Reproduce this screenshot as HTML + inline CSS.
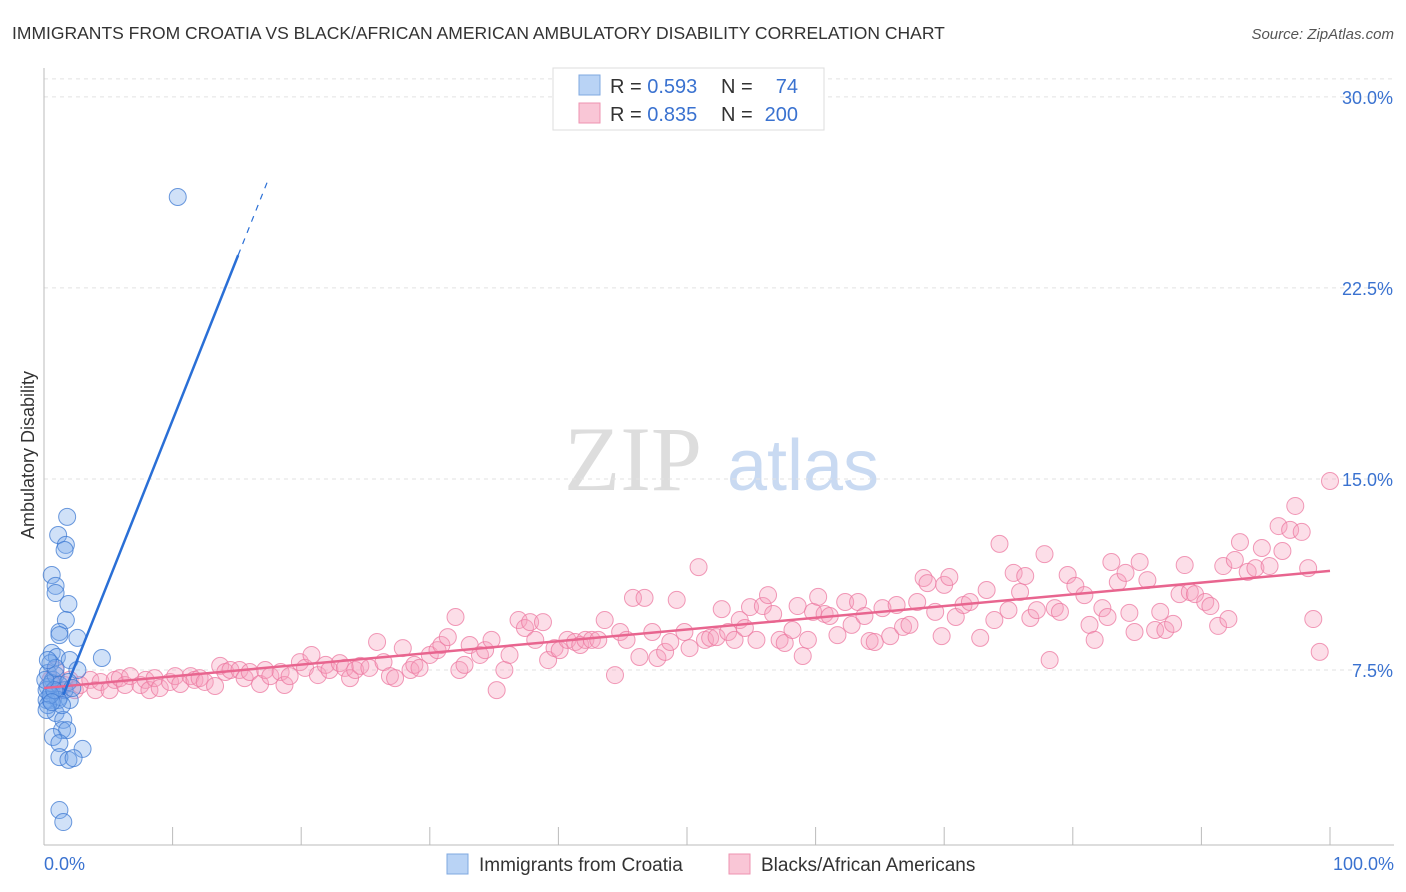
<!DOCTYPE html>
<html><head><meta charset="utf-8"><style>
body{margin:0;background:#fff;font-family:"Liberation Sans",sans-serif;}
#wrap{position:relative;width:1406px;height:892px;overflow:hidden;}
svg text{font-family:"Liberation Sans",sans-serif;}
</style></head><body>
<div id="wrap">
<svg id="chart" width="1406" height="892">
<text x="12" y="39" font-size="17.5" fill="#333">IMMIGRANTS FROM CROATIA VS BLACK/AFRICAN AMERICAN AMBULATORY DISABILITY CORRELATION CHART</text>
<text x="1394" y="39" font-size="15" fill="#555" font-style="italic" text-anchor="end">Source: ZipAtlas.com</text>
<text x="34" y="455" font-size="18" fill="#333" text-anchor="middle" transform="rotate(-90 34 455)">Ambulatory Disability</text>
<g>
<text x="633" y="490" font-size="92" fill="#ddd" font-family="Liberation Serif" text-anchor="middle" style="font-family:'Liberation Serif',serif">ZIP</text>
<text x="803" y="490" font-size="72" fill="#c9daf2" text-anchor="middle">atlas</text>
</g>
<g id="grid"></g><g id="axes"></g><g id="pts"></g><g id="lines"></g>
<g>
<rect x="553" y="68" width="271" height="62" fill="#fff" stroke="#ddd"/>
<rect x="579" y="75" width="21" height="20" fill="#b9d3f5" stroke="#7fa8e0"/>
<rect x="579" y="103" width="21" height="20" fill="#f9c6d6" stroke="#ee93b0"/>
<text x="610" y="93" font-size="20" fill="#333">R = <tspan fill="#3a72d0">0.593</tspan></text>
<text x="721" y="93" font-size="20" fill="#333">N = </text><text x="798" y="93" font-size="20" fill="#3a72d0" text-anchor="end">74</text>
<text x="610" y="121" font-size="20" fill="#333">R = <tspan fill="#3a72d0">0.835</tspan></text>
<text x="721" y="121" font-size="20" fill="#333">N = </text><text x="798" y="121" font-size="20" fill="#3a72d0" text-anchor="end">200</text>
</g>
<g>
<rect x="447" y="854" width="21" height="20" fill="#b9d3f5" stroke="#7fa8e0"/>
<text x="479" y="871" font-size="19" fill="#333">Immigrants from Croatia</text>
<rect x="729" y="854" width="21" height="20" fill="#f9c6d6" stroke="#ee93b0"/>
<text x="761" y="871" font-size="19" fill="#333">Blacks/African Americans</text>
</g>
</svg>
</div>
<script>
const yTicks=[7.5,15,22.5,30];
const yTickLabels=["7.5%","15.0%","22.5%","30.0%"];
const xTicks=[0,10,20,30,40,50,60,70,80,90,100];
const blueX=[10.4,1.8,1.1,1.7,1.6,0.6,0.9,0.9,1.9,1.7,1.2,1.2,2.6,0.6,4.5,1.0,2.0,2.6,0.5,0.3,0.7,0.3,0.6,0.5,1.2,2.0,0.9,1.5,1.4,1.8,0.7,1.2,3.0,1.2,1.9,2.3,1.2,1.5,0.2,0.2,0.6,0.9,1.2,1.6,1.1,1.4,0.3,0.5,0.8,0.1,0.9,0.3,1.9,2.2,0.2,0.6];
const blueY=[26.07,13.51,12.8,12.41,12.21,11.23,10.8,10.52,10.09,9.46,8.99,8.87,8.76,8.17,7.97,8.01,7.89,7.5,7.77,7.38,7.11,6.83,6.6,6.32,6.44,6.32,5.81,5.54,5.14,5.14,4.87,4.63,4.4,4.08,3.97,4.04,2.0,1.53,6.32,6.71,6.99,7.3,6.91,6.71,6.32,6.12,6.12,6.52,6.71,7.11,7.58,7.89,7.03,6.79,5.93,6.24];
const pinkX=[0.5,0.9,1.2,1.6,2.0,2.4,2.8,3.6,4.0,4.4,5.1,5.5,5.9,6.3,6.7,7.5,7.9,8.2,8.6,9.0,9.8,10.2,10.6,11.4,11.7,12.1,12.5,13.3,13.7,14.1,14.5,15.2,15.6,16.0,16.8,17.2,17.6,18.4,18.7,19.1,19.9,20.3,20.8,21.3,21.9,22.2,23.0,23.4,23.8,24.2,24.6,25.3,25.9,26.4,26.9,27.3,27.9,28.5,28.8,29.2,30.0,30.6,30.9,31.4,32.0,32.3,32.7,33.1,33.9,34.3,34.8,35.2,35.8,36.2,36.9,37.4,37.8,38.2,38.8,39.2,39.7,40.1,40.7,41.3,41.7,42.1,42.6,43.1,43.6,44.4,44.8,45.3,45.8,46.3,46.7,47.3,47.7,48.3,48.7,49.2,49.8,50.2,50.9,51.4,51.8,52.3,52.7,53.2,53.7,54.1,54.5,54.9,55.4,55.9,56.3,56.7,57.2,57.6,58.2,58.6,59.0,59.4,59.8,60.2,60.7,61.1,61.7,62.3,62.8,63.3,63.8,64.2,64.6,65.2,65.8,66.3,66.8,67.3,67.9,68.4,68.7,69.3,69.8,70.0,70.4,70.9,71.5,72.0,72.8,73.3,73.9,74.3,75.0,75.4,75.9,76.3,76.7,77.2,77.8,78.2,78.6,79.0,79.6,80.2,80.9,81.3,81.7,82.3,82.7,83.0,83.5,84.1,84.4,84.8,85.2,85.8,86.4,86.8,87.2,87.8,88.3,88.7,89.1,89.5,90.3,90.7,91.3,91.7,92.1,92.6,93.0,93.6,94.2,94.7,95.3,96.0,96.3,96.9,97.3,97.8,98.3,98.7,99.2,100];
const pinkY=[7.11,7.5,6.71,6.91,7.11,6.71,6.91,7.11,6.71,7.03,6.71,7.11,7.18,6.91,7.26,6.91,7.11,6.71,7.18,6.79,7.03,7.26,6.95,7.26,7.11,7.18,7.03,6.87,7.66,7.42,7.5,7.5,7.18,7.42,6.95,7.5,7.26,7.42,6.91,7.26,7.81,7.58,8.09,7.3,7.7,7.5,7.77,7.58,7.18,7.5,7.66,7.58,8.6,7.81,7.26,7.18,8.36,7.5,7.7,7.58,8.09,8.28,8.48,8.79,9.58,7.5,7.7,8.48,8.09,8.28,8.68,6.71,7.5,8.09,9.46,9.15,9.38,8.68,9.38,7.89,8.36,8.28,8.68,8.6,8.48,8.68,8.68,8.68,9.46,7.3,8.99,8.68,10.33,8.01,10.33,8.99,7.97,8.21,8.6,10.25,8.99,8.36,11.54,8.68,8.76,8.79,9.89,8.99,8.68,9.46,9.15,9.97,8.68,10.01,10.44,9.7,8.68,8.56,9.07,10.01,8.05,8.68,9.78,10.37,9.7,9.62,8.87,10.17,9.27,10.17,9.62,8.64,8.6,9.93,8.83,10.05,9.19,9.27,10.17,11.11,10.91,9.78,8.83,10.84,11.15,9.58,10.05,10.17,8.76,10.64,9.46,12.45,9.85,11.31,10.56,11.19,9.54,9.85,12.05,7.89,9.93,9.78,11.23,10.8,10.44,9.27,8.68,9.93,9.58,11.74,10.95,11.31,9.74,8.99,11.74,11.03,9.07,9.78,9.07,9.31,10.48,11.62,10.56,10.48,10.17,10.01,9.23,11.58,9.5,11.82,12.52,11.35,11.5,12.29,11.58,13.15,12.17,13.0,13.94,12.92,11.5,9.5,8.21,14.92];
const blueTrendX=[0,15.1,17.4];
const pinkTrendX=[0,100];
function blueFit(x){return 4.61+1.27*x;}
function pinkFit(x){return 6.79+0.046*x;}
const X=v=>44+v*12.86, Y=v=>861-v*25.47;
const NS="http://www.w3.org/2000/svg";
function mk(tag,attrs,parent){const e=document.createElementNS(NS,tag);for(const k in attrs)e.setAttribute(k,attrs[k]);parent.appendChild(e);return e;}
const grid=document.getElementById('grid'),axes=document.getElementById('axes'),pts=document.getElementById('pts'),lines=document.getElementById('lines');
yTicks.forEach((t,i)=>{
 const l=mk('line',{x1:44,x2:1394,y1:Y(t),y2:Y(t),stroke:'#e2e2e2','stroke-dasharray':'4,4'},grid);
 
 
 const tx=mk('text',{x:1393,y:Y(t)+7,'font-size':18,fill:'#3a72d0','text-anchor':'end'},axes);
 tx.textContent=yTickLabels[i];
 
 
});
const topG=mk('line',{x1:44,x2:1394,y1:Y(30)-18,y2:Y(30)-18,stroke:'#e2e2e2','stroke-dasharray':'4,4'},grid);


const ya=mk('line',{x1:44,x2:44,y1:68,y2:845,stroke:'#bbb'},axes);


const xa=mk('line',{x1:44,x2:1394,y1:845,y2:845,stroke:'#bbb'},axes);


xTicks.forEach(t=>{
 const l=mk('line',{x1:X(t),x2:X(t),y1:827,y2:845,stroke:'#bbb'},axes);
 
 
});
const xl0=mk('text',{x:44,y:870,'font-size':18,fill:'#3a72d0'},axes);xl0.textContent='0.0%';


const xl1=mk('text',{x:1394,y:870,'font-size':18,fill:'#3a72d0','text-anchor':'end'},axes);xl1.textContent='100.0%';


pinkX.forEach((v,i)=>{
 const c=mk('circle',{cx:X(v),cy:Y(pinkY[i]),r:8.5,fill:'rgba(246,160,190,0.35)',stroke:'rgba(236,120,160,0.75)','stroke-width':1},pts);
 
 
});
blueX.forEach((v,i)=>{
 const c=mk('circle',{cx:X(v),cy:Y(blueY[i]),r:8.5,fill:'rgba(120,170,235,0.35)',stroke:'rgba(60,120,210,0.75)','stroke-width':1},pts);
 
 
});
const pl=mk('line',{x1:X(pinkTrendX[0]),y1:Y(pinkFit(pinkTrendX[0])),x2:X(pinkTrendX[1]),y2:Y(pinkFit(pinkTrendX[1])),stroke:'#e8658f','stroke-width':2.5},lines);


const bl=mk('line',{x1:X(blueTrendX[0]+1.5),y1:Y(blueFit(blueTrendX[0]+1.5)),x2:X(blueTrendX[1]),y2:Y(blueFit(blueTrendX[1])),stroke:'#2a6fd6','stroke-width':2.5},lines);


const bd=mk('line',{x1:X(blueTrendX[1]),y1:Y(blueFit(blueTrendX[1])),x2:X(blueTrendX[2]),y2:Y(blueFit(blueTrendX[2])),stroke:'#2a6fd6','stroke-width':1.2,'stroke-dasharray':'6,6'},lines);


</script>
</body></html>
